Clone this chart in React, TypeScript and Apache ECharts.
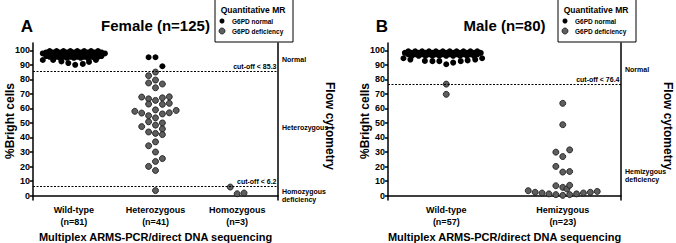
import React, { useEffect, useRef } from "react";
import * as echarts from "echarts";

const yTickValues = [0, 10, 20, 30, 40, 50, 60, 70, 80, 90, 100];
const femaleCategories = ["Wild-type\n(n=81)", "Heterozygous\n(n=41)", "Homozygous\n(n=3)"];
const maleCategories = ["Wild-type\n(n=57)", "Hemizygous\n(n=23)"];
const femaleCutoffs = [85.3, 6.2];
const maleCutoffs = [76.4];
const femaleZones = [
  { text: "Normal", value: 93.5 },
  { text: "Heterozygous", value: 47 },
  { text: "Homozygous\ndeficiency", value: 0 },
];
const maleZones = [
  { text: "Normal", value: 86.5 },
  { text: "Hemizygous\ndeficiency", value: 14 },
];

// points: [swarm slot, %Bright cells]
const femaleWildNormal: number[][] = [
  [-3.5, 99.5], [-2.5, 99.5], [-1.5, 99.5], [-0.5, 99.5], [0.5, 99.5], [1.5, 99.5], [2.5, 99.5], [3.5, 99.5],
  [-4, 98.5], [-3, 98.5], [-2, 98.5], [-1, 98.5], [0, 98.5], [1, 98.5], [2, 98.5], [3, 98.5], [4, 98.5],
  [-4.5, 97.8], [-3.5, 97.8], [-2.5, 97.8], [-1.5, 97.8], [-0.5, 97.8], [0.5, 97.8], [1.5, 97.8], [2.5, 97.8], [3.5, 97.8], [4.5, 97.8],
  [-4, 97], [-3, 97], [-2, 97], [-1, 97], [0, 97], [1, 97], [2, 97], [3, 97], [4, 97],
  [-3.5, 96.5], [-2.5, 96.5], [-1.5, 96.5], [-0.5, 96.5], [0.5, 96.5], [1.5, 96.5], [2.5, 96.5], [3.5, 96.5],
  [-4, 96], [-3, 96], [-2, 96], [-1, 96], [0, 96], [1, 96], [2, 96], [3, 96], [4, 96],
  [-3.5, 95.5], [-2.5, 95.5], [-1.5, 95.5], [-0.5, 95.5], [0.5, 95.5], [1.5, 95.5], [2.5, 95.5], [3.5, 95.5],
  [-3, 94.8], [-2, 94.8], [-1, 94.8], [0, 94.8], [1, 94.8], [2, 94.8], [3, 94.8],
  [-4.5, 93.3], [-3, 93.3], [-1.8, 92.3], [-0.8, 91.2], [0.2, 90], [1.3, 90.6], [2.2, 92], [3.2, 93.3],
  [-2.5, 97.3], [-0.5, 97.3], [1.5, 97.3], [-1, 98], [1, 98],
];
const femaleHetNormal: number[][] = [[-1, 95.2], [0, 95.2], [1, 89]];
const femaleHetDeficient: number[][] = [
  [0, 85], [-1, 82.5], [0, 79.5], [-1, 77.5], [1, 76.8], [0, 74.2],
  [-2, 67.8], [-1, 66.6], [0, 65.5], [1, 67.3], [2, 68],
  [-1, 63], [1, 62.8], [2, 63.5],
  [-3, 58], [-2, 56.8], [-1, 55], [0, 59], [1, 56.2], [2, 57], [3, 58.6],
  [0, 53.5], [-1, 50.8], [-2, 47.5], [0, 48.5], [1, 50], [1, 45.9],
  [-1, 43.8], [0, 42.8], [1, 42],
  [0, 37], [-1, 34.3], [0, 30], [1, 25.5], [0, 23.5], [-1, 20.1], [0, 17.3],
  [0, 3.5],
];
const femaleHomDeficient: number[][] = [[-1, 5.9], [0, 1.3], [1, 1.8]];

const maleWildNormal: number[][] = [
  [-5.5, 99.3], [-4.5, 99.3], [-3.5, 99.3], [-2.5, 99.3], [-1.5, 99.3], [-0.5, 99.3], [0.5, 99.3], [1.5, 99.3], [2.5, 99.3], [3.5, 99.3], [4.5, 99.3],
  [-6, 98.2], [-5, 98.2], [-4, 98.2], [-3, 98.2], [-2, 98.2], [-1, 98.2], [0, 98.2], [1, 98.2], [2, 98.2], [3, 98.2], [4, 98.2], [5, 98.2],
  [-5.5, 97.2], [-4.5, 97.2], [-3.5, 97.2], [-2.5, 97.2], [-1.5, 97.2], [-0.5, 97.2], [0.5, 97.2], [1.5, 97.2], [2.5, 97.2], [3.5, 97.2], [4.5, 97.2],
  [-5, 96.2], [-4, 96.2], [-3, 96.2], [-2, 96.2], [-1, 96.2], [0, 96.2], [1, 96.2], [2, 96.2], [3, 96.2], [4, 96.2],
  [-6.2, 94.5], [-5.2, 93.6], [-3.1, 92.7], [-2, 92.5], [-1, 92.5], [0, 90.4], [1, 91.5], [2.1, 92.5], [3.1, 93], [4.2, 93.6], [5.2, 94.5],
];
const maleWildDeficient: number[][] = [[0, 76.7], [0, 69.7]];
const maleHemDeficient: number[][] = [
  [0, 63.5], [0, 48.8],
  [-1, 29.9], [0, 26.9], [1, 31.5],
  [-1, 20.1], [0, 16.2], [1, 16.6],
  [-1, 6.8], [0, 5.7], [0.6, 4.6], [1, 7.1],
  [-5, 3.4], [-4, 2.3], [-3, 1.8], [-2, 1.2], [-1, 0.7], [0, 0.2], [1, 0.7], [2, 1.2], [3, 1.8], [4, 2.3], [5, 2.9],
];

const FONT = '"Liberation Sans", Arial, sans-serif';
const Y_MIN = -3;
const Y_MAX = 105;
const GRID_TOP = 43;
const GRID_H = 157;
const SLOT_PX = 6.9;

const panels = [
  { left: 33, width: 245, flowGap: 52, cats: femaleCategories, cutoffs: femaleCutoffs, zones: femaleZones, letter: "A", title: "Female (n=125)",
    normal: [{ cat: 0, pts: femaleWildNormal }, { cat: 1, pts: femaleHetNormal }],
    deficient: [{ cat: 1, pts: femaleHetDeficient }, { cat: 2, pts: femaleHomDeficient }] },
  { left: 388, width: 233, flowGap: 47, cats: maleCategories, cutoffs: maleCutoffs, zones: maleZones, letter: "B", title: "Male (n=80)",
    normal: [{ cat: 0, pts: maleWildNormal }],
    deficient: [{ cat: 0, pts: maleWildDeficient }, { cat: 1, pts: maleHemDeficient }] },
];

function yPix(v: number) {
  return GRID_TOP + ((Y_MAX - v) / (Y_MAX - Y_MIN)) * GRID_H;
}

function text(x: number, y: number, t: string, size: number, align = "left", extra: any = {}) {
  return {
    type: "text",
    x,
    y,
    ...extra,
    style: {
      text: t,
      font: `bold ${size}px ${FONT}`,
      fill: "#000",
      align,
      verticalAlign: "middle",
      textAlign: align,
      textVerticalAlign: "middle",
      lineHeight: size + 1,
    },
  };
}

export default function App() {
  const ref = useRef<HTMLDivElement>(null);
  useEffect(() => {
    if (!ref.current) return;
    const chart = echarts.init(ref.current, undefined, { renderer: "svg" });
    const grid: any[] = [];
    const xAxis: any[] = [];
    const yAxis: any[] = [];
    const series: any[] = [];
    const graphic: any[] = [];
    const axisLineStyle = { color: "#000", width: 1.5 };
    panels.forEach((p, i) => {
      grid.push({ left: p.left, top: GRID_TOP, width: p.width, height: GRID_H });
      const n = p.cats.length;
      const slot = SLOT_PX / (p.width / n);
      xAxis.push({
        type: "category", gridIndex: i, data: p.cats, boundaryGap: true,
        axisLine: { lineStyle: axisLineStyle },
        axisTick: { alignWithLabel: true, length: 3, lineStyle: axisLineStyle },
        axisLabel: { color: "#000", fontSize: 9, fontWeight: "bold", fontFamily: FONT, lineHeight: 12, margin: 4 },
        splitLine: { show: false },
      });
      xAxis.push({ type: "value", gridIndex: i, min: 0, max: n, show: false, splitLine: { show: false } });
      yAxis.push({
        type: "value", gridIndex: i, min: Y_MIN, max: Y_MAX,
        axisLine: { show: true, lineStyle: axisLineStyle },
        axisTick: { show: true, length: 3, lineStyle: axisLineStyle, customValues: yTickValues },
        axisLabel: { color: "#000", fontSize: 9, fontWeight: "bold", fontFamily: FONT, margin: 3, customValues: yTickValues },
        splitLine: { show: false },
      });
      yAxis.push({
        type: "value", gridIndex: i, min: Y_MIN, max: Y_MAX, position: "right",
        axisLine: { show: true, lineStyle: axisLineStyle },
        axisTick: { show: false }, axisLabel: { show: false }, splitLine: { show: false },
      });
      const toData = (groups: { cat: number; pts: number[][] }[]) =>
        groups.flatMap((g) => g.pts.map(([s, v]) => [g.cat + 0.5 + s * slot, v]));
      series.push({
        name: "G6PD normal", type: "scatter", xAxisIndex: i * 2 + 1, yAxisIndex: i * 2,
        symbolSize: 6, itemStyle: { color: "#000", opacity: 1 },
        data: toData(p.normal),
        markLine: {
          silent: true, symbol: "none",
          lineStyle: { color: "#000", width: 1, type: [2, 1.5] },
          label: {
            position: "insideEndTop", color: "#000", fontSize: 7, fontWeight: "bold", fontFamily: FONT, distance: 1.5,
            formatter: (d: any) => `cut-off < ${d.value}`,
          },
          data: p.cutoffs.map((c) => ({ yAxis: c })),
        },
      });
      series.push({
        name: "G6PD deficiency", type: "scatter", xAxisIndex: i * 2 + 1, yAxisIndex: i * 2,
        symbolSize: 6, itemStyle: { color: "#5e5e5e", borderColor: "#111", borderWidth: 0.8, opacity: 1 },
        data: toData(p.deficient),
      });
      const right = p.left + p.width;
      const cx = p.left + p.width / 2;
      graphic.push(text(p.left - 6, 26, p.letter, 17, "center"));
      graphic.push(text(cx, 25, p.title, 15, "center"));
      graphic.push(text(p.left - 23, 121, "%Bright cells", 12, "center", { rotation: Math.PI / 2 }));
      graphic.push(text(cx, 237, "Multiplex ARMS-PCR/direct DNA sequencing", 11, "center"));
      graphic.push(text(right + p.flowGap, 126, "Flow cytometry", 12, "center", { rotation: -Math.PI / 2 }));
      p.zones.forEach((z) => {
        graphic.push(text(right + 4, yPix(z.value), z.text, 7, "left"));
      });
      const lx = right - 63;
      graphic.push({ type: "rect", shape: { x: lx, y: -1, width: 78, height: 43 }, style: { fill: "#fff", stroke: "#000", lineWidth: 1 } });
      graphic.push(text(lx + 38, 10, "Quantitative MR", 8.5, "center"));
      graphic.push({ type: "circle", shape: { cx: lx + 7, cy: 21, r: 2.5 }, style: { fill: "#000" } });
      graphic.push(text(lx + 17, 21, "G6PD normal", 6.5, "left"));
      graphic.push({ type: "circle", shape: { cx: lx + 7, cy: 31, r: 3 }, style: { fill: "#5e5e5e", stroke: "#111", lineWidth: 0.8 } });
      graphic.push(text(lx + 17, 31, "G6PD deficiency", 6.5, "left"));
    });
    chart.setOption({
      animation: false,
      backgroundColor: "#fff",
      grid, xAxis, yAxis, series, graphic,
    });
    return () => chart.dispose();
  }, []);
  return <div ref={ref} style={{ position: "absolute", left: 0, top: 0, width: 676, height: 243 }} />;
}
